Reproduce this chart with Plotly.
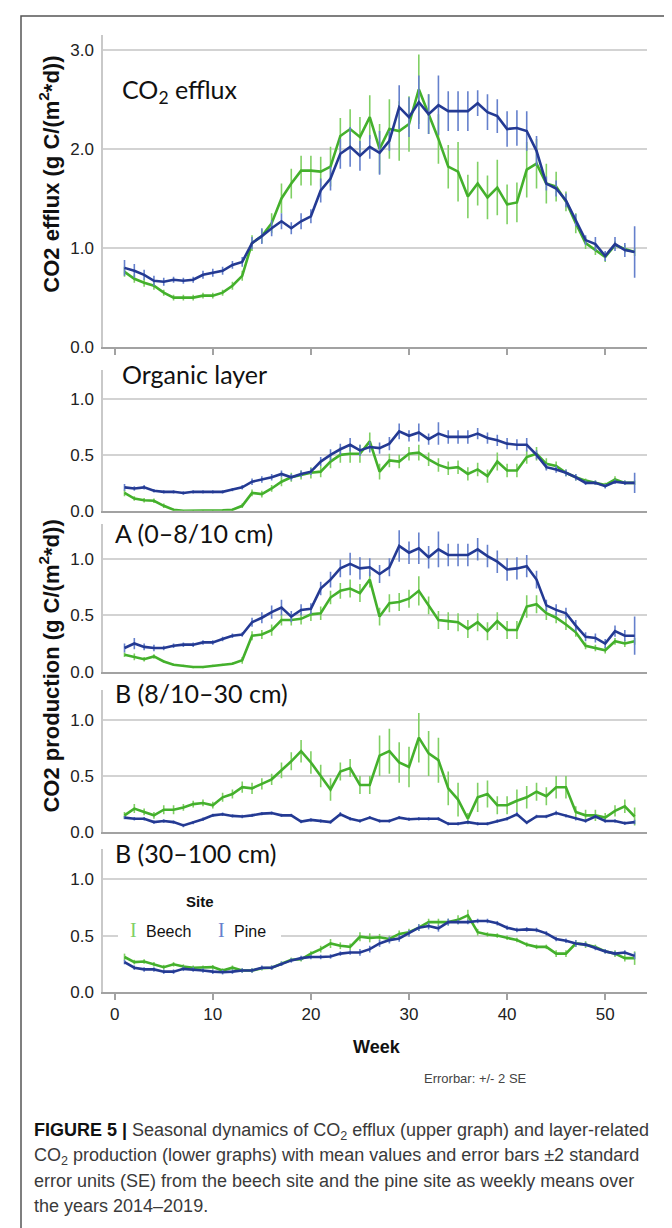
import plotly.graph_objects as go

W, H = 672, 1228

weeks = list(range(1, 54))

# CO2 efflux (top panel)
efflux_beech = [0.76, 0.69, 0.65, 0.62, 0.55, 0.50, 0.50, 0.50, 0.52, 0.52, 0.55, 0.62, 0.72,
                1.05, 1.12, 1.25, 1.50, 1.65, 1.78, 1.78, 1.77, 1.82, 2.13, 2.20, 2.12, 2.32, 2.00,
                2.20, 2.18, 2.25, 2.60, 2.35, 2.10, 1.82, 1.77, 1.52, 1.65, 1.51, 1.61, 1.44, 1.46,
                1.79, 1.85, 1.65, 1.62, 1.47, 1.25, 1.05, 0.98, 0.91, 1.03, 0.99, 0.96]
efflux_beech_err = [0.05, 0.04, 0.04, 0.04, 0.03, 0.03, 0.03, 0.03, 0.03, 0.03, 0.03, 0.04, 0.05,
                    0.08, 0.07, 0.10, 0.15, 0.15, 0.15, 0.15, 0.15, 0.20, 0.18, 0.20, 0.20, 0.22, 0.25,
                    0.30, 0.30, 0.28, 0.35, 0.20, 0.25, 0.22, 0.30, 0.22, 0.22, 0.22, 0.28, 0.20, 0.20,
                    0.28, 0.25, 0.20, 0.15, 0.10, 0.10, 0.06, 0.05, 0.05, 0.04, 0.04, 0.04]
efflux_pine = [0.80, 0.77, 0.73, 0.67, 0.66, 0.68, 0.67, 0.68, 0.73, 0.75, 0.77, 0.83, 0.86,
               1.05, 1.12, 1.20, 1.27, 1.20, 1.27, 1.32, 1.58, 1.70, 1.95, 2.02, 1.93, 2.02, 1.96,
               2.08, 2.42, 2.32, 2.47, 2.35, 2.44, 2.38, 2.38, 2.38, 2.46, 2.37, 2.33, 2.20, 2.21,
               2.18, 1.98, 1.65, 1.60, 1.48, 1.28, 1.08, 1.04, 0.92, 1.04, 0.98, 0.96]
efflux_pine_err = [0.08, 0.07, 0.05, 0.05, 0.04, 0.03, 0.03, 0.03, 0.04, 0.04, 0.04, 0.04, 0.05,
                   0.06, 0.08, 0.08, 0.08, 0.06, 0.08, 0.07, 0.12, 0.12, 0.15, 0.20, 0.15, 0.12, 0.22,
                   0.10, 0.22, 0.20, 0.27, 0.20, 0.30, 0.20, 0.20, 0.20, 0.13, 0.18, 0.17, 0.18, 0.18,
                   0.20, 0.15, 0.07, 0.08, 0.07, 0.06, 0.05, 0.07, 0.05, 0.07, 0.07, 0.26]

# Organic layer
organic_beech = [0.16, 0.11, 0.095, 0.09, 0.045, 0.01, 0.0, 0.0, 0.0, 0.0, 0.005, 0.01, 0.045,
                 0.16, 0.15, 0.20, 0.26, 0.30, 0.32, 0.34, 0.35, 0.44, 0.50, 0.51, 0.51, 0.62,
                 0.35, 0.45, 0.44, 0.51, 0.52, 0.46, 0.41, 0.38, 0.39, 0.33, 0.37, 0.31, 0.44, 0.36,
                 0.36, 0.48, 0.51, 0.42, 0.40, 0.34, 0.30, 0.27, 0.25, 0.23, 0.28, 0.25, 0.25]
organic_beech_err = [0.03, 0.02, 0.02, 0.02, 0.02, 0.01, 0.005, 0.005, 0.005, 0.005, 0.005, 0.01, 0.02,
                     0.03, 0.03, 0.03, 0.04, 0.04, 0.04, 0.05, 0.05, 0.06, 0.07, 0.08, 0.08, 0.08,
                     0.07, 0.06, 0.06, 0.06, 0.07, 0.06, 0.06, 0.06, 0.06, 0.06, 0.06, 0.06, 0.08, 0.06,
                     0.06, 0.06, 0.06, 0.05, 0.04, 0.03, 0.03, 0.02, 0.02, 0.02, 0.03, 0.02, 0.02]
organic_pine = [0.21, 0.20, 0.21, 0.18, 0.17, 0.17, 0.16, 0.17, 0.17, 0.17, 0.17, 0.19, 0.21,
                0.26, 0.28, 0.30, 0.33, 0.30, 0.33, 0.35, 0.44, 0.50, 0.55, 0.59, 0.54, 0.57,
                0.56, 0.60, 0.71, 0.67, 0.70, 0.64, 0.69, 0.66, 0.66, 0.66, 0.69, 0.65, 0.63, 0.60,
                0.59, 0.59, 0.50, 0.39, 0.37, 0.34, 0.30, 0.25, 0.25, 0.22, 0.26, 0.25, 0.25]
organic_pine_err = [0.03, 0.02, 0.02, 0.015, 0.015, 0.015, 0.015, 0.015, 0.015, 0.015, 0.015, 0.015, 0.02,
                    0.03, 0.03, 0.03, 0.03, 0.03, 0.03, 0.03, 0.04, 0.05, 0.05, 0.06, 0.05, 0.05,
                    0.05, 0.06, 0.07, 0.05, 0.08, 0.05, 0.10, 0.06, 0.06, 0.06, 0.05, 0.05, 0.05, 0.05,
                    0.05, 0.06, 0.04, 0.03, 0.03, 0.03, 0.03, 0.02, 0.02, 0.02, 0.02, 0.02, 0.09]

# A horizon (0-8/10 cm)
a_beech = [0.15, 0.13, 0.11, 0.135, 0.09, 0.06, 0.05, 0.04, 0.04, 0.05, 0.06, 0.07, 0.10,
           0.32, 0.33, 0.37, 0.46, 0.46, 0.47, 0.51, 0.52, 0.66, 0.72, 0.74, 0.70, 0.82,
           0.49, 0.61, 0.62, 0.65, 0.72, 0.59, 0.46, 0.45, 0.44, 0.38, 0.44, 0.36, 0.45, 0.37,
           0.37, 0.58, 0.60, 0.52, 0.48, 0.42, 0.35, 0.23, 0.21, 0.19, 0.27, 0.25, 0.27]
a_beech_err = [0.02, 0.03, 0.02, 0.02, 0.01, 0.01, 0.01, 0.01, 0.01, 0.01, 0.01, 0.01, 0.03,
               0.04, 0.04, 0.05, 0.05, 0.05, 0.05, 0.06, 0.06, 0.06, 0.07, 0.08, 0.08, 0.07,
               0.08, 0.08, 0.08, 0.08, 0.13, 0.08, 0.08, 0.08, 0.08, 0.08, 0.08, 0.08, 0.08, 0.08,
               0.08, 0.10, 0.08, 0.06, 0.05, 0.05, 0.04, 0.03, 0.03, 0.03, 0.03, 0.03, 0.03]
a_pine = [0.21, 0.25, 0.22, 0.21, 0.21, 0.23, 0.24, 0.24, 0.26, 0.26, 0.29, 0.32, 0.33,
          0.44, 0.48, 0.53, 0.57, 0.49, 0.55, 0.56, 0.74, 0.82, 0.92, 0.96, 0.92, 0.93,
          0.87, 0.93, 1.12, 1.06, 1.10, 1.02, 1.09, 1.04, 1.04, 1.04, 1.09, 1.03, 0.98, 0.91,
          0.92, 0.94, 0.82, 0.59, 0.55, 0.52, 0.41, 0.31, 0.30, 0.25, 0.36, 0.32, 0.32]
a_pine_err = [0.04, 0.05, 0.03, 0.03, 0.02, 0.02, 0.02, 0.02, 0.02, 0.02, 0.02, 0.02, 0.02,
              0.04, 0.05, 0.06, 0.07, 0.05, 0.05, 0.05, 0.06, 0.07, 0.08, 0.10, 0.10, 0.08,
              0.08, 0.08, 0.14, 0.10, 0.14, 0.10, 0.16, 0.10, 0.10, 0.10, 0.10, 0.10, 0.10, 0.10,
              0.10, 0.10, 0.08, 0.05, 0.05, 0.05, 0.05, 0.04, 0.04, 0.04, 0.05, 0.05, 0.17]

# B horizon (8/10-30 cm)
b1_beech = [0.15, 0.21, 0.18, 0.15, 0.20, 0.20, 0.22, 0.25, 0.26, 0.24, 0.31, 0.34, 0.40,
            0.39, 0.43, 0.47, 0.55, 0.63, 0.72, 0.62, 0.50, 0.38, 0.54, 0.57, 0.42, 0.42, 0.68,
            0.72, 0.62, 0.58, 0.84, 0.70, 0.64, 0.39, 0.29, 0.12, 0.31, 0.34, 0.24, 0.24,
            0.28, 0.31, 0.36, 0.32, 0.40, 0.40, 0.18, 0.15, 0.15, 0.13, 0.19, 0.23, 0.14]
b1_beech_err = [0.03, 0.04, 0.03, 0.03, 0.04, 0.04, 0.03, 0.03, 0.03, 0.03, 0.04, 0.04, 0.05,
                0.05, 0.05, 0.05, 0.07, 0.08, 0.10, 0.10, 0.10, 0.10, 0.08, 0.08, 0.08, 0.08, 0.18,
                0.20, 0.18, 0.18, 0.22, 0.20, 0.20, 0.15, 0.15, 0.05, 0.13, 0.12, 0.08, 0.08,
                0.10, 0.10, 0.08, 0.08, 0.10, 0.10, 0.05, 0.05, 0.05, 0.04, 0.05, 0.06, 0.08]
b1_pine = [0.13, 0.12, 0.12, 0.09, 0.10, 0.09, 0.06, 0.085, 0.115, 0.15, 0.16, 0.145, 0.14,
           0.15, 0.165, 0.17, 0.15, 0.15, 0.095, 0.11, 0.10, 0.09, 0.16, 0.12, 0.10, 0.13,
           0.10, 0.10, 0.13, 0.115, 0.12, 0.12, 0.12, 0.075, 0.075, 0.09, 0.075, 0.075, 0.10, 0.12,
           0.16, 0.085, 0.14, 0.14, 0.17, 0.145, 0.12, 0.10, 0.14, 0.10, 0.10, 0.08, 0.09]
b1_pine_err = [0.015, 0.015, 0.015, 0.015, 0.015, 0.015, 0.015, 0.015, 0.015, 0.015,
               0.015, 0.015, 0.015, 0.015, 0.015, 0.015, 0.015, 0.015, 0.015, 0.015,
               0.015, 0.015, 0.02, 0.015, 0.015, 0.015, 0.015, 0.015, 0.015, 0.015,
               0.015, 0.015, 0.015, 0.015, 0.015, 0.015, 0.015, 0.015, 0.015, 0.015,
               0.02, 0.015, 0.015, 0.015, 0.02, 0.015, 0.015, 0.015, 0.015, 0.015,
               0.015, 0.015, 0.02]

# B horizon (30-100 cm)
b2_beech = [0.31, 0.265, 0.27, 0.245, 0.22, 0.245, 0.225, 0.215, 0.215, 0.22, 0.19, 0.215, 0.19,
            0.19, 0.21, 0.215, 0.25, 0.285, 0.29, 0.34, 0.38, 0.43, 0.41, 0.40, 0.49, 0.48,
            0.485, 0.47, 0.515, 0.53, 0.57, 0.62, 0.62, 0.62, 0.64, 0.68, 0.53, 0.51, 0.50, 0.48,
            0.46, 0.42, 0.40, 0.40, 0.34, 0.34, 0.43, 0.42, 0.40, 0.36, 0.34, 0.30, 0.30]
b2_beech_err = [0.03, 0.02, 0.02, 0.02, 0.02, 0.02, 0.02, 0.02, 0.02, 0.02,
                0.02, 0.02, 0.02, 0.02, 0.02, 0.02, 0.02, 0.02, 0.02, 0.02,
                0.03, 0.04, 0.03, 0.03, 0.04, 0.04, 0.03, 0.03, 0.03, 0.03,
                0.03, 0.03, 0.03, 0.03, 0.04, 0.05, 0.03, 0.02, 0.02, 0.02,
                0.02, 0.02, 0.02, 0.02, 0.03, 0.03, 0.03, 0.03, 0.02, 0.02,
                0.03, 0.03, 0.06]
b2_pine = [0.265, 0.215, 0.20, 0.20, 0.18, 0.18, 0.205, 0.20, 0.19, 0.18, 0.175, 0.18, 0.19,
           0.19, 0.215, 0.215, 0.25, 0.28, 0.30, 0.31, 0.31, 0.315, 0.34, 0.35, 0.35, 0.38,
           0.43, 0.46, 0.475, 0.52, 0.57, 0.585, 0.565, 0.62, 0.62, 0.62, 0.63, 0.63, 0.61, 0.57,
           0.55, 0.555, 0.55, 0.52, 0.47, 0.455, 0.43, 0.42, 0.39, 0.36, 0.34, 0.35, 0.32]
b2_pine_err = [0.02, 0.02, 0.02, 0.02, 0.02, 0.02, 0.02, 0.02, 0.02, 0.02,
               0.02, 0.02, 0.02, 0.02, 0.02, 0.02, 0.02, 0.02, 0.02, 0.02,
               0.02, 0.02, 0.02, 0.02, 0.03, 0.03, 0.03, 0.03, 0.03, 0.03,
               0.03, 0.03, 0.03, 0.03, 0.02, 0.02, 0.02, 0.02, 0.02, 0.02,
               0.02, 0.02, 0.02, 0.02, 0.02, 0.02, 0.03, 0.02, 0.02, 0.02,
               0.02, 0.02, 0.03]

panel_titles = ["CO<sub>2</sub> efflux", "Organic layer", "A (0–8/10 cm)",
                "B (8/10–30 cm)", "B (30–100 cm)"]
week_ticks = [0, 10, 20, 30, 40, 50]

GREEN, GREEN_ERR = "#44b02c", "#80d064"
BLUE, BLUE_ERR = "#243a93", "#6580cc"
GRID, AXIS, LEFT_AXIS = "#d3d3d3", "#a2a2a2", "#c9c9c9"


def px_x(x):
    return x / W


def px_y(y):
    return 1 - y / H


# (beech, beech err, pine, pine err, pixel top, pixel bottom, y max, y ticks)
panels = [
    (efflux_beech, efflux_beech_err, efflux_pine, efflux_pine_err, 27, 342, 3.15, [0, 1, 2, 3]),
    (organic_beech, organic_beech_err, organic_pine, organic_pine_err, 365, 507, 1.257, [0, 0.5, 1]),
    (a_beech, a_beech_err, a_pine, a_pine_err, 520, 669, 1.318, [0, 0.5, 1]),
    (b1_beech, b1_beech_err, b1_pine, b1_pine_err, 688, 831, 1.26, [0, 0.5, 1]),
    (b2_beech, b2_beech_err, b2_pine, b2_pine_err, 848, 992, 1.268, [0, 0.5, 1]),
]

x_left, x_right = 95, 639
x_range = [(x_left - 106.7) / 9.81, (x_right - 106.7) / 9.81]

fig = go.Figure()
layout = {}
for i, (beech, beech_err, pine, pine_err, top, bottom, ymax, yt) in enumerate(panels):
    sfx = "" if i == 0 else str(i + 1)
    for vals, err, col, ecol, name in [(beech, beech_err, GREEN, GREEN_ERR, "Beech"),
                                       (pine, pine_err, BLUE, BLUE_ERR, "Pine")]:
        fig.add_trace(go.Scatter(
            x=weeks, y=vals, mode="lines", name=name,
            line=dict(color=col, width=2.6),
            error_y=dict(type="data", array=err, visible=True, color=ecol,
                         thickness=1.6, width=0),
            xaxis="x" + sfx, yaxis="y" + sfx, showlegend=False,
        ))
    with_ticks = i in (0, 4)
    layout["xaxis" + sfx] = dict(
        domain=[px_x(x_left), px_x(x_right)], range=x_range, anchor="y" + sfx,
        showline=True, linecolor=AXIS, linewidth=2, showgrid=False, zeroline=False,
        tickvals=week_ticks, ticks="outside" if with_ticks else "", ticklen=6,
        tickwidth=1.5, tickcolor=AXIS, showticklabels=(i == 4),
        tickfont=dict(family="Liberation Sans, Arial", size=17, color="#222"),
    )
    layout["yaxis" + sfx] = dict(
        domain=[px_y(bottom), px_y(top)], range=[0, ymax], anchor="x" + sfx,
        tickvals=yt, ticktext=["%.1f" % v for v in yt], ticks="",
        showgrid=True, gridcolor=GRID, gridwidth=1.5, zeroline=False,
        showline=True, linecolor=LEFT_AXIS, linewidth=1.5, ticklabelstandoff=4,
        tickfont=dict(family="Liberation Sans, Arial", size=17, color="#222"),
    )

annotations = []


def note(text, x, y, size, family="Liberation Sans, Arial", color="#111",
         xanchor="left", yanchor="middle", angle=0, weight="normal"):
    annotations.append(dict(
        text=text, x=px_x(x), y=px_y(y), xref="paper", yref="paper",
        xanchor=xanchor, yanchor=yanchor, showarrow=False, textangle=angle,
        font=dict(family=family, size=size, color=color, weight=weight),
    ))


title_pos = [(112, 84), (112, 369), (105, 529), (105, 691), (105, 852)]
for t, (tx, ty) in zip(panel_titles, title_pos):
    note(t, tx, ty, 25, family="Lato, Noto Sans", color="#111")

note("CO2 efflux (g C/(m<sup>2</sup>*d))", 41, 168, 22, angle=-90, xanchor="center", weight="bold")
note("CO2 production (g C/(m<sup>2</sup>*d))", 41, 664, 22, angle=-90, xanchor="center", weight="bold")
note("Week", 369, 1048, 18, xanchor="center", weight="bold")
note("Errorbar: +/- 2 SE", 414, 1079, 13, color="#444")

# legend
note("Site", 192, 901, 15, xanchor="center", weight="bold")
note("I", 125, 930, 20, family="Liberation Serif, DejaVu Serif", color=GREEN_ERR, xanchor="center")
note("Beech", 136, 931, 16)
note("I", 213, 930, 20, family="Liberation Serif, DejaVu Serif", color=BLUE_ERR, xanchor="center")
note("Pine", 224, 931, 16)

caption = [
    "<b style='color:#111'>FIGURE 5 |</b> Seasonal dynamics of CO<sub>2</sub> efflux (upper graph) and layer-related",
    "CO<sub>2</sub> production (lower graphs) with mean values and error bars ±2 standard",
    "error units (SE) from the beech site and the pine site as weekly means over",
    "the years 2014–2019.",
]
for k, line in enumerate(caption):
    note(line, 24, 1133 + 25 * k, 18, color="#3a3a3a")

shapes = [
    dict(type="rect", xref="paper", yref="paper", layer="above",
         x0=px_x(110), x1=px_x(273), y0=px_y(946), y1=px_y(886),
         fillcolor="white", line=dict(width=0)),
    dict(type="rect", xref="paper", yref="paper", layer="above",
         x0=px_x(13), x1=px_x(665), y0=px_y(1240), y1=px_y(8),
         fillcolor="rgba(0,0,0,0)", line=dict(color="#555", width=1.5)),
]

fig.update_layout(
    width=W, height=H, margin=dict(l=0, r=0, t=0, b=0),
    paper_bgcolor="white", plot_bgcolor="white",
    annotations=annotations, shapes=shapes, **layout,
)

fig.write_html("out.html")
